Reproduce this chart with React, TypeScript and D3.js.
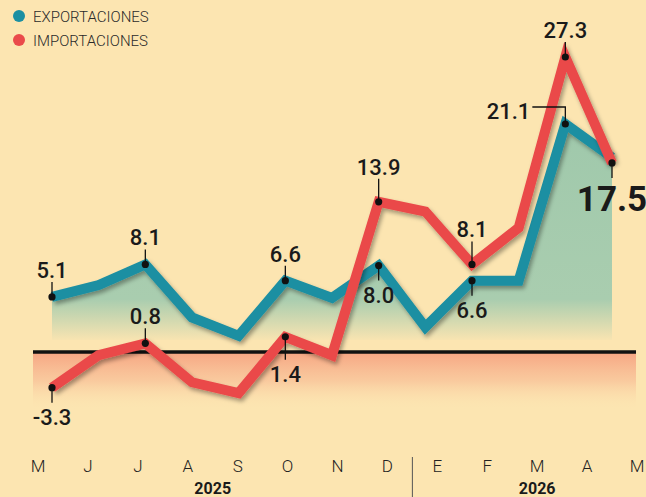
import React from "react";
import * as d3 from "d3";

const months = ["M", "J", "J", "A", "S", "O", "N", "D", "E", "F", "M", "A", "M"];
const monthYears = [2025, 2025, 2025, 2025, 2025, 2025, 2025, 2025, 2026, 2026, 2026, 2026, 2026];
const years = [2025, 2026];
const exportaciones = [5.1, 6.2, 8.1, 3.2, 1.5, 6.6, 5.0, 8.0, 2.3, 6.6, 6.6, 21.1, 18.0];
const importaciones = [-3.3, -0.3, 0.8, -2.8, -3.8, 1.4, -0.3, 13.9, 13.0, 8.1, 11.5, 27.3, 17.5];
const seriesNames = ["EXPORTACIONES", "IMPORTACIONES"];

// annotation layout: which points carry a value label, and where
const annotations = [
  { s: 0, i: 0, dir: -1 },
  { s: 0, i: 2, dir: -1 },
  { s: 0, i: 5, dir: -1 },
  { s: 0, i: 7, dir: 1 },
  { s: 0, i: 9, dir: 1 },
  { s: 0, i: 11, dir: 0 },
  { s: 1, i: 0, dir: 1 },
  { s: 1, i: 2, dir: -1 },
  { s: 1, i: 5, dir: 1, long: true },
  { s: 1, i: 7, dir: -1, long: true },
  { s: 1, i: 9, dir: -1, long: true },
  { s: 1, i: 11, dir: -1 },
  { s: 1, i: 12, dir: 1, big: true },
];

const W = 646;
const H = 497;
const BG = "#FCE5B1";
const TEAL = "#1B8FA2";
const RED = "#EA4A4A";
const FONT = "Roboto, 'DejaVu Sans', sans-serif";

export default function App() {
  const idx = months.map((_, i) => i);
  const x = d3.scalePoint<number>().domain(idx).range([52, 612]);
  const xl = d3.scalePoint<number>().domain(idx).range([38, 637]);
  const y = d3.scaleLinear().domain([0, 27.3]).range([352, 57]);
  const series = [exportaciones, importaciones];
  const colors = [TEAL, RED];

  const line = d3
    .line<number>()
    .x((_, i) => x(i)!)
    .y((d) => y(d));
  const area = d3
    .area<number>()
    .x((_, i) => x(i)!)
    .y0(340)
    .y1((d) => y(d));

  const fmt = (v: number) => (v < 0 ? "-" + Math.abs(v).toFixed(1) : v.toFixed(1));

  const yearCenters = years.map((yr) => {
    const xs = idx.filter((i) => monthYears[i] === yr).map((i) => xl(i)!);
    return (d3.min(xs)! + d3.max(xs)!) / 2;
  });
  const divX = (xl(7)! + xl(8)!) / 2;

  return (
    <div style={{ position: "fixed", left: 0, top: 0 }}>
      <svg width={W} height={H} style={{ display: "block" }}>
        <defs>
          <linearGradient id="gArea" gradientUnits="userSpaceOnUse" x1={0} y1={57} x2={0} y2={342}>
            <stop offset="0" stopColor="#9CC7AA" />
            <stop offset="0.85" stopColor="#A9CDAF" />
            <stop offset="1" stopColor="#A9CDAF" stopOpacity={0} />
          </linearGradient>
          <linearGradient id="sArea" gradientUnits="userSpaceOnUse" x1={0} y1={352} x2={0} y2={410}>
            <stop offset="0" stopColor="#F6A582" />
            <stop offset="0.5" stopColor="#F8BE96" stopOpacity={0.7} />
            <stop offset="1" stopColor={BG} stopOpacity={0} />
          </linearGradient>
          <filter id="shadow" x="-10%" y="-10%" width="120%" height="130%">
            <feDropShadow dx="2" dy="3" stdDeviation="2.2" floodColor="#000" floodOpacity="0.35" />
          </filter>
        </defs>
        <rect x={0} y={0} width={W} height={H} fill={BG} />

        <path d={area(exportaciones)!} fill="url(#gArea)" />
        <rect x={33} y={352} width={603} height={60} fill="url(#sArea)" />
        <line x1={33} x2={636} y1={y(0)} y2={y(0)} stroke="#111" strokeWidth={3.5} />

        {series.map((s, k) => (
          <path
            key={k}
            d={line(s)!}
            fill="none"
            stroke={colors[k]}
            strokeWidth={10}
            strokeLinejoin="miter"
            filter="url(#shadow)"
          />
        ))}

        {annotations.map((a, n) => {
          const v = series[a.s][a.i];
          const px = x(a.i)!;
          const py = y(v);
          const fs = a.big ? 35 : 22;
          if (a.dir === 0) {
            const ly = py - 17;
            return (
              <g key={n}>
                <polyline points={`${px - 33},${ly} ${px},${ly} ${px},${py}`} fill="none" stroke="#111" strokeWidth={1.3} />
                <circle cx={px} cy={py} r={3.6} fill="#111" />
                <text x={px - 35} y={ly + 12} textAnchor="end" fontFamily={FONT} fontWeight={500} fontSize={fs} fill="#1a1a1a">
                  {fmt(v)}
                </text>
              </g>
            );
          }
          const len = a.long ? 23 : 15;
          const ly = py + a.dir * len;
          const ty = a.dir < 0 ? ly - 4 : ly + (a.big ? 33 : 22);
          return (
            <g key={n}>
              <line x1={px} x2={px} y1={py} y2={ly} stroke="#111" strokeWidth={1.3} />
              <circle cx={px} cy={py} r={3.6} fill="#111" />
              <text
                x={px}
                y={ty}
                textAnchor="middle"
                fontFamily={FONT}
                fontWeight={a.big ? 700 : 500}
                fontSize={fs}
                fill="#1a1a1a"
              >
                {fmt(v)}
              </text>
            </g>
          );
        })}

        {seriesNames.map((name, k) => (
          <g key={name}>
            <circle cx={19} cy={16 + k * 24} r={6} fill={colors[k]} />
            <text x={33} y={22 + k * 24} fontFamily={FONT} fontWeight={300} fontSize={15} fill="#2a2a2a">
              {name}
            </text>
          </g>
        ))}

        {months.map((m, i) => (
          <text key={i} x={xl(i)!} y={472} textAnchor="middle" fontFamily={FONT} fontWeight={300} fontSize={17} fill="#222">
            {m}
          </text>
        ))}
        <line x1={divX} x2={divX} y1={457} y2={497} stroke="#555" strokeWidth={1} />
        {years.map((yr, k) => (
          <text key={yr} x={yearCenters[k]} y={494} textAnchor="middle" fontFamily={FONT} fontWeight={700} fontSize={16} fill="#1a1a1a">
            {yr}
          </text>
        ))}
      </svg>
    </div>
  );
}
